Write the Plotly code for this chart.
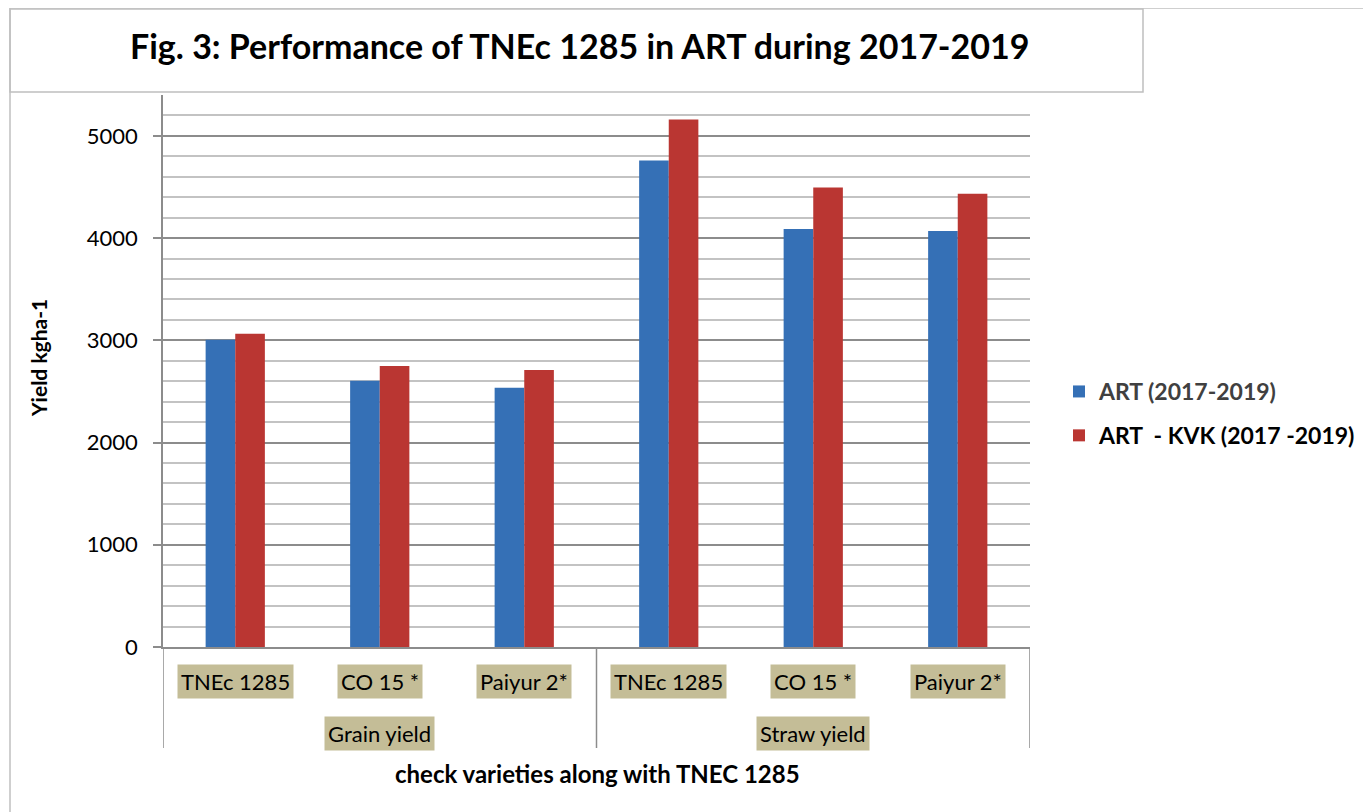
import plotly.graph_objects as go

# ---- data ----
varieties = ["TNEc 1285", "CO 15 *", "Paiyur 2*", "TNEc 1285", "CO 15 *", "Paiyur 2*"]
groups = ["Grain yield", "Grain yield", "Grain yield", "Straw yield", "Straw yield", "Straw yield"]
series_names = ["ART (2017-2019)", "ART  - KVK (2017 -2019)"]
art = [3005, 2605, 2535, 4760, 4090, 4070]
art_kvk = [3065, 2750, 2710, 5160, 4495, 4435]
y_ticks = [0, 1000, 2000, 3000, 4000, 5000]

# ---- layout helpers (screen pixel -> paper); page body has an 8px margin ----
OFF = 8
W, H = 1371 - OFF, 812 - OFF
L, R, T, B = 163 - OFF, 1371 - 1030, 95 - OFF, 812 - 647
pw, ph = W - L - R, H - T - B
def px(x):
    return (x - OFF - L) / pw
def py(y):
    return (H - B - (y - OFF)) / ph

FONT = "Lato"
idx = list(range(len(varieties)))
blue, red = "#3570B6", "#BA3632"
tan = "#C4BD97"
grid_major, grid_minor = "#8C8C8C", "#C3C3C3"

fig = go.Figure()
fig.add_trace(go.Bar(x=idx, y=art, name='<span style="color:#404040"><b>' + series_names[0] + '</b></span>',
                     marker=dict(color=blue, line=dict(width=0)), width=0.205, legendgroup="a"))
fig.add_trace(go.Bar(x=idx, y=art_kvk, name='<b>' + series_names[1] + '</b>',
                     marker=dict(color=red, line=dict(width=0)), width=0.205, legendgroup="b"))

shapes = []
# outer chart border and title box
shapes.append(dict(type="line", xref="paper", yref="paper", x0=px(10), x1=px(1371), y0=py(8), y1=py(8),
                   line=dict(color="#BFBFBF", width=1.5)))
shapes.append(dict(type="line", xref="paper", yref="paper", x0=px(10), x1=px(10), y0=py(8), y1=py(812),
                   line=dict(color="#BFBFBF", width=1.5)))
shapes.append(dict(type="rect", xref="paper", yref="paper", x0=px(10), x1=px(1143), y0=py(92), y1=py(9),
                   line=dict(color="#BFBFBF", width=1.5), fillcolor="white", layer="below"))
# axis line extension (tick at zero)
shapes.append(dict(type="line", xref="paper", yref="paper", x0=px(155), x1=0, y0=0, y1=0,
                   line=dict(color=grid_major, width=1.5)))
# group dividers
bounds = [-0.5]
for i in range(1, len(groups)):
    if groups[i] != groups[i - 1]:
        bounds.append(i - 0.5)
bounds.append(len(groups) - 0.5)
for b in bounds:
    shapes.append(dict(type="line", xref="x", yref="paper", x0=b, x1=b, y0=0, y1=py(748),
                       line=dict(color=grid_major, width=1.5)))

annotations = []
annotations.append(dict(text="<b>Fig. 3: Performance of TNEc 1285 in ART during 2017-2019</b>",
                        xref="paper", yref="paper", x=px(579), y=py(45), showarrow=False,
                        font=dict(family=FONT, size=34, color="black"), xanchor="center", yanchor="middle"))
annotations.append(dict(text="<b>Yield kgha-1</b>", xref="paper", yref="paper", x=px(38), y=py(358),
                        textangle=-90, showarrow=False, font=dict(family=FONT, size=21, color="black"),
                        xanchor="center", yanchor="middle"))
annotations.append(dict(text="<b>check varieties along with TNEC 1285</b>", xref="paper", yref="paper",
                        x=px(597), y=py(773), showarrow=False, font=dict(family=FONT, size=24, color="black"),
                        xanchor="center", yanchor="middle"))
for i, v in enumerate(varieties):
    annotations.append(dict(text=v, xref="x", yref="paper", x=i, y=py(681), showarrow=False,
                            bgcolor=tan, borderpad=3, font=dict(family=FONT, size=22, color="black"),
                            xanchor="center", yanchor="middle"))
seen = []
for g in groups:
    if g not in seen:
        seen.append(g)
for g in seen:
    members = [i for i, gg in enumerate(groups) if gg == g]
    annotations.append(dict(text=g, xref="x", yref="paper", x=sum(members) / len(members), y=py(733),
                            showarrow=False, bgcolor=tan, borderpad=3,
                            font=dict(family=FONT, size=22, color="black"),
                            xanchor="center", yanchor="middle"))

fig.update_layout(
    width=W, height=H,
    margin=dict(l=L, r=R, t=T, b=B, autoexpand=False),
    paper_bgcolor="white", plot_bgcolor="white",
    barmode="group", bargap=0.59, bargroupgap=0,
    showlegend=True,
    legend=dict(x=px(1059), y=py(370), xanchor="left", yanchor="top",
                font=dict(family=FONT, size=23, color="black"),
                traceorder="grouped", tracegroupgap=11, bgcolor="rgba(0,0,0,0)"),
    shapes=shapes, annotations=annotations,
    xaxis=dict(range=[-0.5, len(varieties) - 0.5], showticklabels=False, ticks="",
               showgrid=False, zeroline=False, showline=True, linecolor=grid_major, linewidth=1.5),
    yaxis=dict(range=[0, 5400], tickvals=y_ticks, ticktext=[str(t) for t in y_ticks],
               showgrid=True, gridcolor=grid_major, gridwidth=1.5,
               minor=dict(dtick=200, showgrid=True, gridcolor=grid_minor, gridwidth=1.5, ticks=""),
               ticks="outside", ticklen=8, tickcolor=grid_major, tickwidth=1.5,
               showline=True, linecolor=grid_major, linewidth=1.5, zeroline=False,
               ticklabelstandoff=11,
               tickfont=dict(family=FONT, size=22, color="black")),
    font=dict(family=FONT),
)

fig.write_html("out.html")
